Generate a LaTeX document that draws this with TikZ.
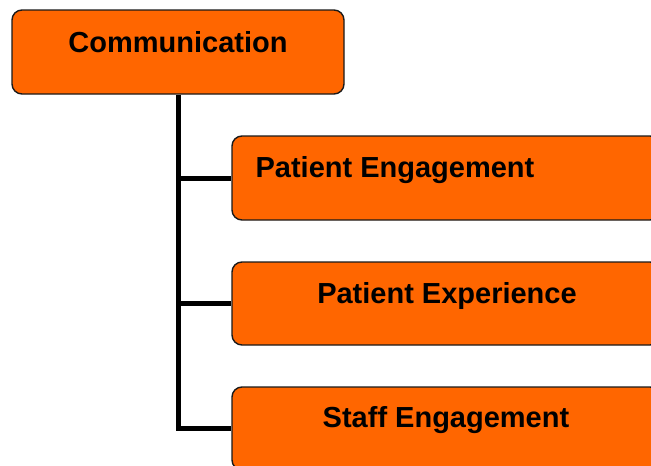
\documentclass[tikz,border=0pt]{standalone}
\usepackage{fontspec}
\setmainfont{Liberation Sans}
\usetikzlibrary{positioning}
\definecolor{topicFill}{HTML}{FF6600}
\definecolor{topicEdge}{HTML}{1A1A1A}

\tikzset{
  topicbox/.style={draw=topicEdge, fill=topicFill, rounded corners=10pt,
                   line width=1.4pt, inner sep=0pt},
  topictext/.style={font=\bfseries\fontsize{29}{34}\selectfont, inner sep=0pt, anchor=base},
  branch/.style={line width=5pt, draw=black},
}

\begin{document}
\begin{tikzpicture}[x=1pt, y=-1pt]
        \useasboundingbox (0,0) rectangle (651,466);
        \clip (0,0) rectangle (651,466);
        % boxes
        \node[topicbox, minimum width=332pt, minimum height=84pt] (comm) at (178, 52) {};
        \node[topicbox, minimum width=428pt, minimum height=84pt] (engage) at (446, 178) {};
        \node[topicbox, minimum width=428pt, minimum height=83pt] (exper) at (446, 303.5) {};
        \node[topicbox, minimum width=428pt, minimum height=83pt] (staff) at (446, 428.5) {};
        % tree lines
        \draw[branch] (comm.south) |- (staff.west);
        \draw[branch] (comm.south |- engage.west) -- (engage.west);
        \draw[branch] (comm.south |- exper.west) -- (exper.west);
        % labels
        \node[topictext] (commtext) at (178, 52) {Communication};
        \node[topictext] (engagetext) at (395, 177) {Patient Engagement};
        \node[topictext] (expertext) at (447, 303) {Patient Experience};
        \node[topictext] (stafftext) at (446, 427) {Staff Engagement};
      \end{tikzpicture}
\end{document}
